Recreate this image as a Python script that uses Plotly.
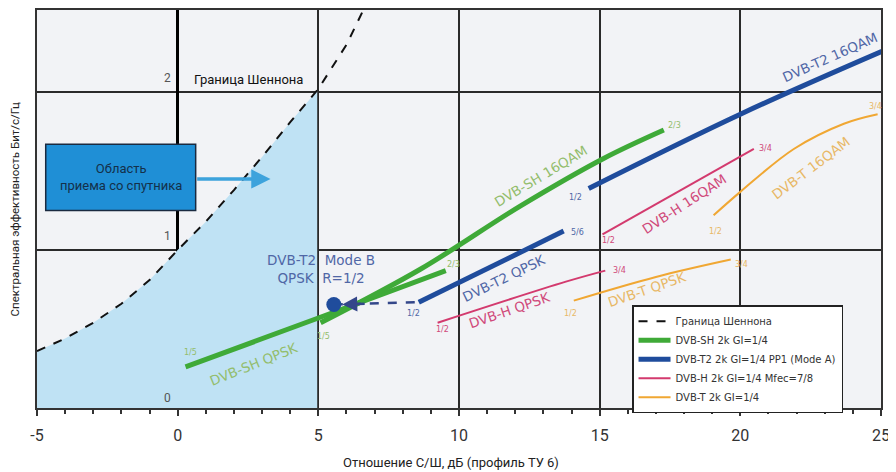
import plotly.graph_objects as go

# ---------------- data ----------------
shannon_x = [-5, -4, -3, -2, -1, 0, 1, 2, 3, 4, 5, 6, 6.6]
shannon_y = [0.36, 0.44, 0.54, 0.66, 0.81, 1.0, 1.18, 1.38, 1.59, 1.81, 2.02, 2.30, 2.52]
fill_x = [-5, -4, -3, -2, -1, 0, 1, 2, 3, 4, 4.96]
fill_y = [0.36, 0.44, 0.54, 0.66, 0.81, 1.0, 1.18, 1.38, 1.59, 1.81, 2.01]

sh_qpsk_x = [0.28, 5.0, 9.53]
sh_qpsk_y = [0.26, 0.57, 0.87]
sh_16qam_x = [5.08, 8.64, 12.19, 15.14, 17.28]
sh_16qam_y = [0.54, 0.88, 1.28, 1.58, 1.76]

t2_qpsk_x = [8.57, 13.72]
t2_qpsk_y = [0.67, 1.12]
t2_16qam_x = [14.61, 20.0, 25.45]
t2_16qam_y = [1.39, 1.86, 2.29]
t2_modeb_x = [5.55]
t2_modeb_y = [0.655]

h_qpsk_x = [9.24, 13.8, 15.2]
h_qpsk_y = [0.54, 0.80, 0.87]
h_16qam_x = [15.1, 20.48]
h_16qam_y = [1.10, 1.64]

t_qpsk_x = [14.08, 17.0, 19.66]
t_qpsk_y = [0.68, 0.83, 0.94]
t_16qam_x = [19.05, 20.01, 21.9, 23.68, 24.88]
t_16qam_y = [1.22, 1.37, 1.64, 1.80, 1.86]

x_ticks = [-5, 0, 5, 10, 15, 20, 25]
y_ticks = [0, 1, 2]

legend_names = ["Граница Шеннона", "DVB-SH 2k GI=1/4", "DVB-T2 2k GI=1/4 PP1 (Mode A)",
                "DVB-H 2k GI=1/4 Mfec=7/8", "DVB-T 2k GI=1/4"]

# ---------------- styles ----------------
GREEN = "#3faa38"
BLUE = "#1f4c9c"
PINK = "#d33a6e"
ORANGE = "#f0a733"
GREEN_T = "#93bd6c"
BLUE_T = "#5067a6"
PINK_T = "#d0497a"
ORANGE_T = "#e8b866"
NARROW = "Liberation Sans Narrow, Arial Narrow, Roboto, sans-serif"
VERD = "DejaVu Sans, Verdana, sans-serif"

fig = go.Figure()

fig.add_trace(go.Scatter(x=fill_x, y=fill_y, mode="lines", line=dict(width=0),
                         fill="tozeroy", fillcolor="#bfe2f4", showlegend=False,
                         hoverinfo="skip"))

fig.add_trace(go.Scatter(x=shannon_x, y=shannon_y, mode="lines", name=legend_names[0],
                         line=dict(color="#111111", width=2, dash="dash")))

fig.add_trace(go.Scatter(x=sh_qpsk_x, y=sh_qpsk_y, mode="lines", name=legend_names[1],
                         line=dict(color=GREEN, width=5, shape="spline")))
fig.add_trace(go.Scatter(x=sh_16qam_x, y=sh_16qam_y, mode="lines", showlegend=False,
                         line=dict(color=GREEN, width=5, shape="spline")))

fig.add_trace(go.Scatter(x=[t2_modeb_x[0], t2_qpsk_x[0]], y=[t2_modeb_y[0], t2_qpsk_y[0]],
                         mode="lines", showlegend=False,
                         line=dict(color="#34478a", width=2.5, dash="dash")))
fig.add_trace(go.Scatter(x=t2_qpsk_x, y=t2_qpsk_y, mode="lines", name=legend_names[2],
                         line=dict(color=BLUE, width=5, shape="spline")))
fig.add_trace(go.Scatter(x=t2_16qam_x, y=t2_16qam_y, mode="lines", showlegend=False,
                         line=dict(color=BLUE, width=5, shape="spline")))
fig.add_trace(go.Scatter(x=t2_modeb_x, y=t2_modeb_y, mode="markers", showlegend=False,
                         marker=dict(color=BLUE, size=15)))

fig.add_trace(go.Scatter(x=h_qpsk_x, y=h_qpsk_y, mode="lines", name=legend_names[3],
                         line=dict(color=PINK, width=2, shape="spline")))
fig.add_trace(go.Scatter(x=h_16qam_x, y=h_16qam_y, mode="lines", showlegend=False,
                         line=dict(color=PINK, width=2, shape="spline")))

fig.add_trace(go.Scatter(x=t_qpsk_x, y=t_qpsk_y, mode="lines", name=legend_names[4],
                         line=dict(color=ORANGE, width=2, shape="spline")))
fig.add_trace(go.Scatter(x=t_16qam_x, y=t_16qam_y, mode="lines", showlegend=False,
                         line=dict(color=ORANGE, width=2, shape="spline")))

ann = []

def lab(x, y, text, color, size=12, angle=0, family=VERD, **kw):
    ann.append(dict(x=x, y=y, xref="x", yref="y", text=text, showarrow=False,
                    textangle=angle, font=dict(color=color, size=size, family=family), **kw))

LS = 13.5
lab(2.7, 0.28, "DVB-SH QPSK", GREEN_T, LS, -22)
lab(12.9, 1.47, "DVB-SH 16QAM", GREEN_T, LS, -31)
lab(11.6, 0.82, "DVB-T2 QPSK", BLUE_T, LS, -26)
lab(23.2, 2.22, "DVB-T2 16QAM", BLUE_T, LS, -24)
lab(11.8, 0.62, "DVB-H QPSK", PINK_T, LS, -19)
lab(18.0, 1.29, "DVB-H 16QAM", PINK_T, LS, -33)
lab(16.7, 0.755, "DVB-T QPSK", ORANGE_T, LS, -19)
lab(22.5, 1.52, "DVB-T 16QAM", ORANGE_T, LS, -37)

for (x, y, t, c) in [
    (0.46, 0.35, "1/5", GREEN_T), (9.8, 0.91, "2/3", GREEN_T),
    (5.2, 0.45, "1/5", GREEN_T), (17.65, 1.79, "2/3", GREEN_T),
    (8.39, 0.60, "1/2", BLUE_T), (14.2, 1.11, "5/6", BLUE_T),
    (14.15, 1.33, "1/2", BLUE_T), (25.5, 2.36, "5/6", BLUE_T),
    (9.42, 0.50, "1/2", PINK_T), (15.7, 0.87, "3/4", PINK_T),
    (15.32, 1.06, "1/2", PINK_T), (20.9, 1.645, "3/4", PINK_T),
    (13.97, 0.60, "1/2", ORANGE_T), (20.05, 0.91, "3/4", ORANGE_T),
    (19.13, 1.12, "1/2", ORANGE_T), (24.8, 1.91, "3/4", ORANGE_T),
]:
    lab(x, y, t, c, 8)

lab(5.1, 0.88, "DVB-T2  Mode B<br>QPSK  R=1/2", BLUE_T, 13.5)

ann.append(dict(x=5.85, y=0.655, ax=6.7, ay=0.66, xref="x", yref="y", axref="x", ayref="y",
                text="", showarrow=True, arrowhead=2, arrowsize=1.2, arrowwidth=2.5,
                arrowcolor="#34478a"))

lab(0.5, 2.08, "Граница Шеннона", "#111111", 13, 0, NARROW, xanchor="left")

ann.append(dict(x=3.3, y=1.45, ax=0.64, ay=1.45, xref="x", yref="y", axref="x", ayref="y",
                text="", showarrow=True, arrowhead=2, arrowsize=1.1, arrowwidth=3.5,
                arrowcolor="#3da3dc"))
lab(-2.03, 1.46, "Область<br>приема со спутника", "#14304a", 13, 0, NARROW)

for v in y_ticks:
    ann.append(dict(x=0, y=v, xref="x", yref="y", text=str(v), showarrow=False,
                    xanchor="right", yanchor="bottom", xshift=-5, yshift=1 if v == 0 else 5,
                    font=dict(size=12, color="#555555", family=NARROW)))

ann.append(dict(x=-0.0255, y=0.5, xref="paper", yref="paper", text="Спектральная эффективность Бит/с/Гц",
                showarrow=False, textangle=-90, xanchor="center", yanchor="middle",
                font=dict(size=11.5, color="#222222", family=NARROW)))
ann.append(dict(x=0.49, y=-0.137, xref="paper", yref="paper", text="Отношение С/Ш, дБ (профиль ТУ 6)",
                showarrow=False, yanchor="middle", font=dict(size=13, color="#222222", family=NARROW)))

shapes = [dict(type="rect", xref="x", yref="y", x0=-4.69, x1=0.64, y0=1.25, y1=1.67,
               fillcolor="#1f8fd6", line=dict(color="#1a2a40", width=1.5), layer="above")]

# the page body adds an 8px offset, so the figure is 888x464 with margins compensated
fig.update_layout(
    width=888, height=464,
    margin=dict(l=29, r=15, t=0, b=64),
    paper_bgcolor="white", plot_bgcolor="#f2f3f6",
    showlegend=True,
    legend=dict(x=0.705, y=0.258, xanchor="left", yanchor="top",
                bgcolor="white", bordercolor="#222222", borderwidth=1.5,
                font=dict(size=10, family=VERD, color="#333333"),
                tracegroupgap=0, itemwidth=32),
    annotations=ann, shapes=shapes,
    xaxis=dict(range=[-5, 25], tickvals=x_ticks, ticktext=[str(v) for v in x_ticks],
               showgrid=True, gridcolor="#2a2a2a", gridwidth=1.5,
               zeroline=True, zerolinecolor="#000000", zerolinewidth=3,
               showline=True, linecolor="#333333", linewidth=2, mirror=True,
               ticks="outside", ticklen=6, tickwidth=2, tickcolor="#333333",
               minor=dict(dtick=1, ticks="outside", ticklen=4, tickwidth=2, tickcolor="#333333",
                          showgrid=False),
               ticklabelstandoff=6,
               tickfont=dict(size=16, family=NARROW, color="#333333")),
    yaxis=dict(range=[0, 2.52], tickvals=y_ticks, showticklabels=False,
               showgrid=True, gridcolor="#2a2a2a", gridwidth=1.5, zeroline=False,
               showline=True, linecolor="#333333", linewidth=2, mirror=True, ticks=""),
)

fig.write_html("out.html")
